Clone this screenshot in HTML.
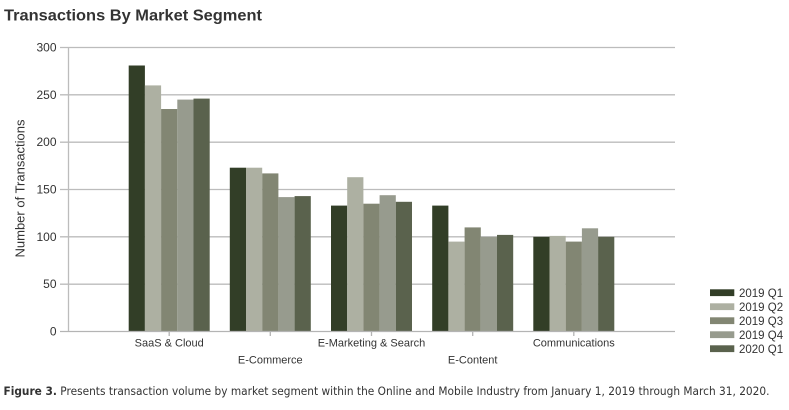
<!DOCTYPE html>
<html><head><meta charset="utf-8"><style>
html,body{margin:0;padding:0;background:#fff;}
svg{display:block;}
text{font-family:"Liberation Sans",Arial,sans-serif;fill:#333;}
</style></head><body>
<svg width="789" height="410" viewBox="0 0 789 410" xmlns="http://www.w3.org/2000/svg">
<text x="4" y="20.7" font-size="15.5" font-weight="bold" textLength="258" lengthAdjust="spacingAndGlyphs">Transactions By Market Segment</text>
<g stroke="#bcbcbc" stroke-width="1.3">
<line x1="60" y1="47.5" x2="675" y2="47.5"/>
<line x1="60" y1="94.8" x2="675" y2="94.8"/>
<line x1="60" y1="142.2" x2="675" y2="142.2"/>
<line x1="60" y1="189.5" x2="675" y2="189.5"/>
<line x1="60" y1="236.8" x2="675" y2="236.8"/>
<line x1="60" y1="284.2" x2="675" y2="284.2"/>
<line x1="68.5" y1="47" x2="68.5" y2="331.5"/>
</g>
<g font-size="12" text-anchor="end">
<text x="56.5" y="51.5">300</text>
<text x="56.5" y="98.8">250</text>
<text x="56.5" y="146.2">200</text>
<text x="56.5" y="193.5">150</text>
<text x="56.5" y="240.8">100</text>
<text x="56.5" y="288.2">50</text>
<text x="56.5" y="335.5">0</text>
</g>
<text transform="translate(24.3,188.5) rotate(-90)" font-size="13" text-anchor="middle">Number of Transactions</text>
<g id="bars">
<rect x="128.7" y="65.5" width="16.2" height="266" fill="#323e27"/>
<rect x="144.9" y="85.4" width="16.2" height="246.1" fill="#adb0a2"/>
<rect x="161.1" y="109.0" width="16.2" height="222.5" fill="#828673"/>
<rect x="177.3" y="99.6" width="16.2" height="231.9" fill="#979b8e"/>
<rect x="193.5" y="98.6" width="16.2" height="232.9" fill="#5a624d"/>
<rect x="229.8" y="167.7" width="16.2" height="163.8" fill="#323e27"/>
<rect x="246.0" y="167.7" width="16.2" height="163.8" fill="#adb0a2"/>
<rect x="262.2" y="173.4" width="16.2" height="158.1" fill="#828673"/>
<rect x="278.4" y="197.1" width="16.2" height="134.4" fill="#979b8e"/>
<rect x="294.6" y="196.1" width="16.2" height="135.4" fill="#5a624d"/>
<rect x="331.0" y="205.6" width="16.2" height="125.9" fill="#323e27"/>
<rect x="347.2" y="177.2" width="16.2" height="154.3" fill="#adb0a2"/>
<rect x="363.4" y="203.7" width="16.2" height="127.8" fill="#828673"/>
<rect x="379.6" y="195.2" width="16.2" height="136.3" fill="#979b8e"/>
<rect x="395.8" y="201.8" width="16.2" height="129.7" fill="#5a624d"/>
<rect x="432.2" y="205.6" width="16.2" height="125.9" fill="#323e27"/>
<rect x="448.4" y="241.6" width="16.2" height="89.9" fill="#adb0a2"/>
<rect x="464.6" y="227.4" width="16.2" height="104.1" fill="#828673"/>
<rect x="480.8" y="236.8" width="16.2" height="94.7" fill="#979b8e"/>
<rect x="497.0" y="234.9" width="16.2" height="96.6" fill="#5a624d"/>
<rect x="533.3" y="236.8" width="16.2" height="94.7" fill="#323e27"/>
<rect x="549.5" y="235.9" width="16.2" height="95.6" fill="#adb0a2"/>
<rect x="565.7" y="241.6" width="16.2" height="89.9" fill="#828673"/>
<rect x="581.9" y="228.3" width="16.2" height="103.2" fill="#979b8e"/>
<rect x="598.1" y="236.8" width="16.2" height="94.7" fill="#5a624d"/>
</g>
<g stroke="#b4b4b4" stroke-width="1.3">
<line x1="60" y1="331.5" x2="675" y2="331.5"/>
<line x1="169.2" y1="331.5" x2="169.2" y2="336"/>
<line x1="270.3" y1="331.5" x2="270.3" y2="336"/>
<line x1="371.5" y1="331.5" x2="371.5" y2="336"/>
<line x1="472.7" y1="331.5" x2="472.7" y2="336"/>
<line x1="573.8" y1="331.5" x2="573.8" y2="336"/>
</g>
<g font-size="11" text-anchor="middle">
<text x="169.2" y="346.5">SaaS &amp; Cloud</text>
<text x="270.3" y="363.5">E-Commerce</text>
<text x="371.5" y="346.5">E-Marketing &amp; Search</text>
<text x="472.7" y="363.5">E-Content</text>
<text x="573.8" y="346.5">Communications</text>
</g>
<g font-size="11.5">
<rect x="710" y="289.3" width="24.3" height="6.8" fill="#323e27"/>
<text x="739" y="297.2">2019 Q1</text>
<rect x="710" y="303.3" width="24.3" height="6.8" fill="#adb0a2"/>
<text x="739" y="311.2">2019 Q2</text>
<rect x="710" y="317.3" width="24.3" height="6.8" fill="#828673"/>
<text x="739" y="325.2">2019 Q3</text>
<rect x="710" y="331.3" width="24.3" height="6.8" fill="#979b8e"/>
<text x="739" y="339.2">2019 Q4</text>
<rect x="710" y="345.3" width="24.3" height="6.8" fill="#5a624d"/>
<text x="739" y="353.2">2020 Q1</text>
</g>
<text x="3.5" y="395" font-size="11.6" style="font-family:'DejaVu Sans',Verdana,sans-serif" textLength="766" lengthAdjust="spacingAndGlyphs"><tspan font-weight="bold">Figure 3.</tspan> Presents transaction volume by market segment within the Online and Mobile Industry from January 1, 2019 through March 31, 2020.</text>
</svg>
</body></html>
